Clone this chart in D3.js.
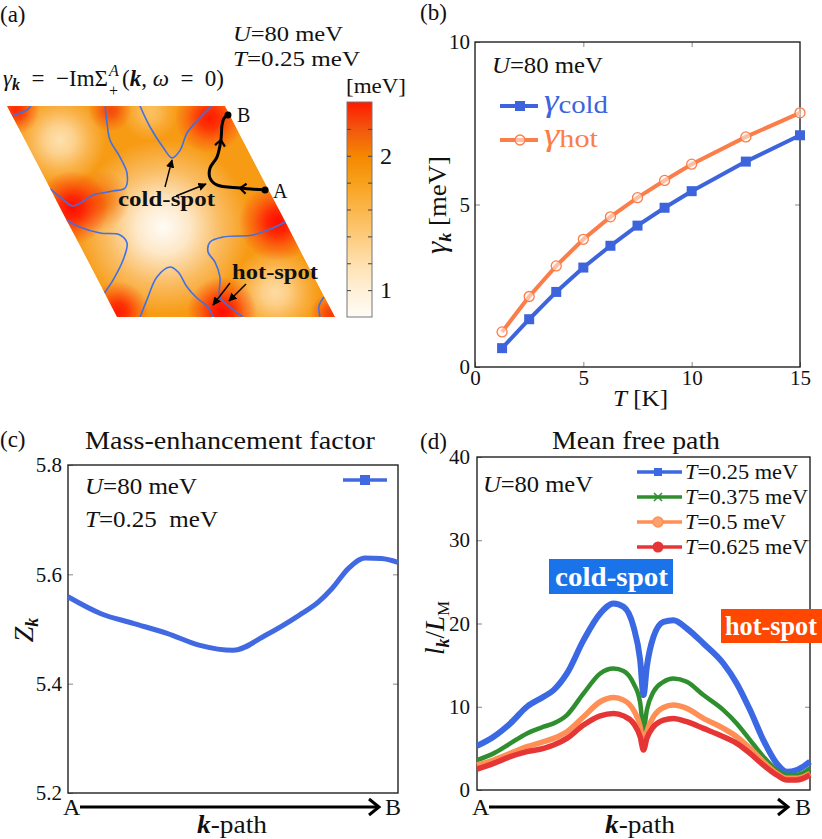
<!DOCTYPE html>
<html>
<head>
<meta charset="utf-8">
<script src="https://cdn.jsdelivr.net/npm/d3@7"></script>
<style>
  body { margin: 0; background: #fff; }
  text { font-family: "Liberation Serif", "DejaVu Serif", serif; fill: #111; }
</style>
</head>
<body>
<svg id="fig" width="822" height="839"></svg>
<script>
// ---------- data ----------
// (a) map: lattice coords (u along top edge, v downwards), value in meV
var spotU   = [0.426, 0.162, 0.785, 0.64, 0.20, 0.054, 0.966, 0.494, 0.902, 0.03, 0.463, 0.017, 0.99];
var spotV   = [0.573, 0.161, 0.882, 0.03, 0.445, 0.483, 0.55, 0.976, 0.057, 0.02, 0.019, 0.976, 0.99];
var spotVal = [0.8, 1.2, 1.25, 1.5, 2.1, 2.45, 2.45, 2.45, 2.4, 2.35, 2.25, 2.4, 2.3];
var spotW   = [0.40, 0.21, 0.20, 0.13, 0.14, 0.17, 0.18, 0.16, 0.16, 0.11, 0.10, 0.14, 0.10];
var baseGamma = 1.85;

var fermiU = [
  [0.0, 0.043, 0.082, 0.110],
  [0.450, 0.418, 0.391, 0.396, 0.390, 0.345, 0.283, 0.182, 0.064, 0.026, 0.0],
  [0.0, 0.045, 0.123, 0.210, 0.223, 0.164, 0.070, 0.0],
  [0.610, 0.606, 0.617, 0.633, 0.689, 0.761, 0.836, 0.940],
  [0.106, 0.178, 0.279, 0.363, 0.388, 0.393, 0.412, 0.441, 0.440],
  [1.0, 0.928, 0.820, 0.678, 0.606, 0.573, 0.581, 0.568, 0.520, 0.542, 0.578],
  [0.997, 0.953, 0.931]
];
var fermiV = [
  [0.047, 0.033, 0.019, 0.0],
  [0.0, 0.081, 0.161, 0.242, 0.318, 0.389, 0.403, 0.422, 0.474, 0.431, 0.393],
  [0.540, 0.573, 0.602, 0.611, 0.649, 0.730, 0.825, 0.886],
  [0.0, 0.0995, 0.194, 0.246, 0.209, 0.128, 0.071, 0.0],
  [1.0, 0.919, 0.810, 0.763, 0.787, 0.858, 0.910, 0.953, 1.0],
  [0.550, 0.578, 0.611, 0.621, 0.645, 0.692, 0.739, 0.810, 0.905, 0.953, 1.0],
  [0.905, 0.948, 1.0]
];
var kPathU = [0.983, 0.873, 0.774, 0.759, 0.783, 0.841, 0.900, 0.941, 0.967, 0.992];
var kPathV = [0.398, 0.389, 0.374, 0.341, 0.294, 0.242, 0.161, 0.090, 0.057, 0.043];

var cbTicks = [1.0, 1.2, 1.4, 1.6, 1.8, 2.0, 2.2];
var cbLabels = [1, 2];

// (b) damping vs temperature
var tempsK     = [1.25, 2.5, 3.75, 5, 6.25, 7.5, 8.75, 10, 12.5, 15];
var gammaCold  = [0.58, 1.47, 2.31, 3.06, 3.73, 4.35, 4.90, 5.41, 6.32, 7.13];
var gammaHot   = [1.08, 2.17, 3.11, 3.93, 4.62, 5.21, 5.74, 6.24, 7.08, 7.82];

// (c) mass enhancement along k-path
var zPathT  = [0, 0.1, 0.2, 0.3, 0.4, 0.5, 0.6, 0.7, 0.76, 0.8, 0.85, 0.9, 0.95, 1.0];
var zValues = [5.559, 5.528, 5.510, 5.492, 5.470, 5.461, 5.489, 5.525, 5.550, 5.574, 5.611, 5.630, 5.629, 5.622];

// (d) mean free path along k-path
var mfpPathT = [0, 0.05, 0.10, 0.15, 0.20, 0.23, 0.27, 0.32, 0.37, 0.41, 0.44, 0.47, 0.49, 0.50,
                0.51, 0.53, 0.56, 0.59, 0.63, 0.68, 0.74, 0.78, 0.82, 0.86, 0.90, 0.93, 0.96, 1.0];
var mfp025  = [5.3, 6.4, 8.0, 10.0, 11.2, 12.0, 14.0, 18.0, 21.2, 22.4, 22.0, 19.6, 15.6, 11.4,
               14.8, 18.4, 20.2, 20.4, 19.4, 17.6, 15.2, 12.8, 9.6, 6.0, 3.2, 2.2, 2.4, 3.4];
var mfp0375 = [3.6, 4.4, 5.6, 6.8, 7.6, 8.0, 9.0, 11.6, 14.0, 14.6, 14.3, 12.8, 10.5, 7.2,
               9.6, 11.8, 13.0, 13.4, 13.0, 11.4, 9.6, 8.0, 6.0, 4.0, 2.4, 1.8, 1.8, 2.6];
var mfp05   = [3.0, 3.6, 4.4, 5.2, 5.8, 6.2, 7.0, 8.8, 10.6, 11.1, 10.8, 9.6, 7.6, 5.2,
               7.0, 8.8, 9.9, 10.2, 9.8, 8.6, 7.4, 6.4, 5.0, 3.4, 2.0, 1.4, 1.4, 2.0];
var mfp0625 = [2.5, 3.2, 4.0, 4.6, 5.0, 5.4, 6.2, 7.8, 8.9, 9.2, 8.9, 8.0, 6.4, 4.8,
               6.2, 7.6, 8.4, 8.6, 8.2, 7.4, 6.4, 5.6, 4.4, 3.0, 1.8, 1.2, 1.2, 1.8];
var mfpTemps = ["0.25", "0.375", "0.5", "0.625"];

// ---------- helpers ----------
var svg = d3.select("#fig");
var defs = svg.append("defs");
var SERIF = '"Liberation Serif", "DejaVu Serif", serif';

function styleAxis(ax, size) {
  ax.select(".domain").remove();
  ax.attr("font-family", SERIF).attr("font-size", size || 19);
  ax.selectAll(".tick line").attr("stroke", "#888").attr("stroke-width", 1);
  ax.selectAll(".tick text").attr("fill", "#222");
}

function frame(g, x, y) {
  g.append("rect")
    .attr("x", x.range()[0]).attr("y", y.range()[1])
    .attr("width", x.range()[1] - x.range()[0])
    .attr("height", y.range()[0] - y.range()[1])
    .attr("fill", "none").attr("stroke", "#222").attr("stroke-width", 1.4);
}

// stretch a text horizontally to the width seen in the figure
function fit(t, len) {
  return t.attr("textLength", len).attr("lengthAdjust", "spacingAndGlyphs");
}

// label with an italic leading symbol, e.g. "U" + "=80 meV"
function varText(g, x, y, size, sym, rest, len) {
  var t = g.append("text").attr("x", x).attr("y", y).attr("font-size", size).style("white-space", "pre");
  t.append("tspan").attr("font-style", "italic").text(sym);
  t.append("tspan").text(rest);
  if (len) fit(t, len);
  return t;
}

function pathArrow(g, x0, x1, yy) {
  g.append("line").attr("x1", x0).attr("x2", x1 - 2).attr("y1", yy).attr("y2", yy)
    .attr("stroke", "#000").attr("stroke-width", 3);
  g.append("path").attr("d", "M" + (x1 - 10) + "," + (yy - 8) + "L" + x1 + "," + yy + "L" + (x1 - 10) + "," + (yy + 8))
    .attr("fill", "none").attr("stroke", "#000").attr("stroke-width", 3);
}

function kPathLabel(g, x, yy) {
  var t = fit(g.append("text").attr("x", x).attr("y", yy).attr("font-size", 26), 70);
  t.append("tspan").attr("font-weight", "bold").attr("font-style", "italic").text("k");
  t.append("tspan").text("-path");
}

// ---------- panel (a) ----------
var colorMap = d3.scaleLinear()
  .domain([0.8, 1.0, 1.2, 1.4, 1.6, 1.8, 2.0, 2.2, 2.4])
  .range(["#fffcf6", "#fff0d8", "#fee0ae", "#fdcb7c", "#fbb64a", "#f8a11c", "#f58700", "#f2560f", "#ff1a00"]);

var uScale = d3.scaleLinear().domain([0, 1]).range([0, 218]);
var vScale = d3.scaleLinear().domain([0, 1]).range([106, 317]);
var shear  = d3.scaleLinear().domain([0, 1]).range([7, 117]);
function px(u, v) { return shear(v) + uScale(u); }

var ga = svg.append("g");
var corners = [[0, 0], [1, 0], [1, 1], [0, 1]];
var polyStr = corners.map(function(c) { return px(c[0], c[1]) + "," + vScale(c[1]); }).join(" ");
defs.append("clipPath").attr("id", "bzClip").append("polygon").attr("points", polyStr);

var mapG = ga.append("g").attr("clip-path", "url(#bzClip)");
mapG.append("polygon").attr("points", polyStr).attr("fill", colorMap(baseGamma));

spotU.forEach(function(u, i) {
  var gid = "spot" + i;
  var rg = defs.append("radialGradient").attr("id", gid);
  var c = colorMap(spotVal[i]);
  rg.append("stop").attr("offset", "0%").attr("stop-color", c).attr("stop-opacity", 1);
  rg.append("stop").attr("offset", "30%").attr("stop-color", c).attr("stop-opacity", 0.8);
  rg.append("stop").attr("offset", "65%").attr("stop-color", c).attr("stop-opacity", 0.35);
  rg.append("stop").attr("offset", "100%").attr("stop-color", c).attr("stop-opacity", 0);
  mapG.append("circle")
    .attr("cx", px(u, spotV[i])).attr("cy", vScale(spotV[i]))
    .attr("r", uScale(spotW[i]))
    .attr("fill", "url(#" + gid + ")");
});

var mapLine = d3.line()
  .x(function(d) { return px(d[0], d[1]); })
  .y(function(d) { return vScale(d[1]); })
  .curve(d3.curveCatmullRom);

fermiU.forEach(function(us, i) {
  var pts = us.map(function(u, j) { return [u, fermiV[i][j]]; });
  mapG.append("path").attr("d", mapLine(pts))
    .attr("fill", "none").attr("stroke", "#3f70e6").attr("stroke-width", 1.6);
});

// k-path A -> B
var kPts = kPathU.map(function(u, j) { return [u, kPathV[j]]; });
ga.append("path").attr("d", mapLine(kPts))
  .attr("fill", "none").attr("stroke", "#000").attr("stroke-width", 3);
[1, 6].forEach(function(j) {
  var p0 = kPts[j - 1], p1 = kPts[j + 1];
  var ang = Math.atan2(vScale(p1[1]) - vScale(p0[1]), px(p1[0], p1[1]) - px(p0[0], p0[1])) * 180 / Math.PI;
  ga.append("path").attr("d", "M-6,-5L0,0L-6,5")
    .attr("transform", "translate(" + px(kPts[j][0], kPts[j][1]) + "," + vScale(kPts[j][1]) + ") rotate(" + ang + ")")
    .attr("fill", "none").attr("stroke", "#000").attr("stroke-width", 2.2);
});
[0, kPts.length - 1].forEach(function(j) {
  ga.append("circle").attr("cx", px(kPts[j][0], kPts[j][1])).attr("cy", vScale(kPts[j][1]))
    .attr("r", 3.5).attr("fill", "#000");
});
ga.append("text").attr("x", 273).attr("y", 198).attr("font-size", 20).text("A");
ga.append("text").attr("x", 237).attr("y", 122).attr("font-size", 20).text("B");

// annotation arrows
defs.append("marker").attr("id", "tri").attr("viewBox", "0 0 10 10")
  .attr("refX", 9).attr("refY", 5).attr("markerWidth", 6).attr("markerHeight", 6)
  .attr("orient", "auto")
  .append("path").attr("d", "M0,0L10,5L0,10z").attr("fill", "#000");
[[165, 187, 172, 160], [176, 196, 206, 184], [230, 283, 213, 305], [246, 284, 229, 301]].forEach(function(a) {
  ga.append("line").attr("x1", a[0]).attr("y1", a[1]).attr("x2", a[2]).attr("y2", a[3])
    .attr("stroke", "#000").attr("stroke-width", 1.4).attr("marker-end", "url(#tri)");
});
fit(ga.append("text").attr("x", 118).attr("y", 206).attr("font-size", 21).attr("font-weight", "bold"), 97).text("cold-spot");
fit(ga.append("text").attr("x", 232).attr("y", 279).attr("font-size", 21).attr("font-weight", "bold"), 86).text("hot-spot");

ga.append("text").attr("x", 0).attr("y", 22).attr("font-size", 23).text("(a)");
varText(ga, 233, 41, 22, "U", "=80 meV", 110);
varText(ga, 233, 66, 22, "T", "=0.25 meV", 127);

// gamma_k = -Im Sigma^A_+(k, omega = 0), pieces placed by measured width
var f1 = ga.append("text").attr("x", 3).attr("y", 86).attr("font-size", 23).style("white-space", "pre");
f1.append("tspan").attr("font-style", "italic").text("γ");
f1.append("tspan").attr("font-style", "italic").attr("font-weight", "bold").attr("font-size", 16).attr("dy", 4).text("k");
f1.append("tspan").attr("dy", -4).text("  =  −ImΣ");
var xs = 3 + f1.node().getComputedTextLength() + 1;
ga.append("text").attr("x", xs).attr("y", 76).attr("font-size", 16).attr("font-style", "italic").text("A");
ga.append("text").attr("x", xs).attr("y", 96).attr("font-size", 16).text("+");
var f2 = ga.append("text").attr("x", xs + 13).attr("y", 86).attr("font-size", 23).style("white-space", "pre");
f2.append("tspan").text("(");
f2.append("tspan").attr("font-style", "italic").attr("font-weight", "bold").text("k");
f2.append("tspan").text(", ");
f2.append("tspan").attr("font-style", "italic").text("ω");
f2.append("tspan").text("  =  0)");

// colorbar
var cbY = d3.scaleLinear().domain([0.8, 2.4]).range([317, 102]);
var lg = defs.append("linearGradient").attr("id", "cbGrad")
  .attr("x1", 0).attr("y1", 1).attr("x2", 0).attr("y2", 0);
colorMap.domain().forEach(function(v) {
  lg.append("stop").attr("offset", (v - 0.8) / 1.6).attr("stop-color", colorMap(v));
});
ga.append("rect").attr("x", 347).attr("y", cbY(2.4)).attr("width", 25).attr("height", cbY(0.8) - cbY(2.4))
  .attr("fill", "url(#cbGrad)").attr("stroke", "#777").attr("stroke-width", 1);
var cbR = ga.append("g").attr("transform", "translate(372,0)")
  .call(d3.axisRight(cbY).tickValues(cbTicks).tickSizeInner(-4).tickSizeOuter(0).tickPadding(8)
    .tickFormat(function(d) { return cbLabels.indexOf(d) >= 0 ? d3.format("d")(d) : ""; }));
styleAxis(cbR, 24);
cbR.selectAll(".tick line").attr("stroke", "#444");
var cbL = ga.append("g").attr("transform", "translate(347,0)")
  .call(d3.axisLeft(cbY).tickValues(cbTicks).tickSizeInner(-4).tickSizeOuter(0).tickFormat(""));
styleAxis(cbL);
cbL.selectAll(".tick line").attr("stroke", "#444");
fit(ga.append("text").attr("x", 346).attr("y", 93).attr("font-size", 22), 60).text("[meV]");

// ---------- panel (b) ----------
var gb = svg.append("g");
var xB = d3.scaleLinear().domain([0, 15]).range([475, 800]);
var yB = d3.scaleLinear().domain([0, 10]).range([367, 42]);
var axB1 = gb.append("g").attr("transform", "translate(0,367)")
  .call(d3.axisBottom(xB).tickValues([0, 5, 10, 15]).tickSizeInner(-5).tickSizeOuter(0).tickPadding(3));
styleAxis(axB1, 21);
var axB2 = gb.append("g").attr("transform", "translate(475,0)")
  .call(d3.axisLeft(yB).tickValues([0, 5, 10]).tickSizeInner(-5).tickSizeOuter(0).tickPadding(5));
styleAxis(axB2, 21);
styleAxis(gb.append("g").attr("transform", "translate(0,42)")
  .call(d3.axisTop(xB).tickValues([5, 10]).tickSizeInner(-5).tickSizeOuter(0).tickFormat("")));
styleAxis(gb.append("g").attr("transform", "translate(800,0)")
  .call(d3.axisRight(yB).tickValues([5]).tickSizeInner(-5).tickSizeOuter(0).tickFormat("")));
frame(gb, xB, yB);

var lineB = d3.line().x(function(d) { return xB(d[0]); }).y(function(d) { return yB(d[1]); });
var coldPts = tempsK.map(function(t, i) { return [t, gammaCold[i]]; });
var hotPts = tempsK.map(function(t, i) { return [t, gammaHot[i]]; });
var blueB = "#3d64dc", orangeB = "#fb7d4a";
gb.append("path").attr("d", lineB(hotPts)).attr("fill", "none").attr("stroke", orangeB).attr("stroke-width", 4);
gb.append("path").attr("d", lineB(coldPts)).attr("fill", "none").attr("stroke", blueB).attr("stroke-width", 4);
gb.selectAll(".hotm").data(hotPts).enter().append("circle")
  .attr("cx", function(d) { return xB(d[0]); }).attr("cy", function(d) { return yB(d[1]); })
  .attr("r", 5).attr("fill", "#fff4ee").attr("fill-opacity", 0.55).attr("stroke", orangeB).attr("stroke-width", 1.3);
gb.selectAll(".coldm").data(coldPts).enter().append("rect")
  .attr("x", function(d) { return xB(d[0]) - 5; }).attr("y", function(d) { return yB(d[1]) - 5; })
  .attr("width", 10).attr("height", 10).attr("fill", blueB);

gb.append("text").attr("x", 420).attr("y", 20).attr("font-size", 23).text("(b)");
varText(gb, 492, 73, 23, "U", "=80 meV", 111);

// legend (b)
gb.append("line").attr("x1", 500).attr("x2", 538).attr("y1", 106).attr("y2", 106).attr("stroke", blueB).attr("stroke-width", 4);
gb.append("rect").attr("x", 515).attr("y", 101).attr("width", 10).attr("height", 10).attr("fill", blueB);
gb.append("line").attr("x1", 500).attr("x2", 538).attr("y1", 140).attr("y2", 140).attr("stroke", orangeB).attr("stroke-width", 4);
gb.append("circle").attr("cx", 520).attr("cy", 140).attr("r", 5).attr("fill", "#fff4ee").attr("fill-opacity", 0.55).attr("stroke", orangeB).attr("stroke-width", 1.3);
var lc = fit(gb.append("text").attr("x", 544).attr("y", 111), 64);
lc.append("tspan").attr("font-size", 32).attr("font-style", "italic").style("fill", blueB).text("γ");
lc.append("tspan").attr("font-size", 25).attr("dy", 2).style("fill", blueB).text("cold");
var lh = fit(gb.append("text").attr("x", 544).attr("y", 145), 54);
lh.append("tspan").attr("font-size", 32).attr("font-style", "italic").style("fill", orangeB).text("γ");
lh.append("tspan").attr("font-size", 25).attr("dy", 2).style("fill", orangeB).text("hot");

var ylb = gb.append("text").attr("transform", "translate(446,205) rotate(-90)").attr("text-anchor", "middle")
  .attr("font-size", 25);
fit(ylb, 98);
ylb.append("tspan").attr("font-style", "italic").attr("font-size", 29).text("γ");
ylb.append("tspan").attr("font-style", "italic").attr("font-weight", "bold").attr("font-size", 17).attr("dy", 5).text("k");
ylb.append("tspan").attr("dy", -5).text(" [meV]");
varText(gb, 613, 406, 24, "T", " [K]", 55);

// ---------- panel (c) ----------
var gc = svg.append("g");
var xC = d3.scaleLinear().domain([0, 1]).range([68, 398]);
var yC = d3.scaleLinear().domain([5.2, 5.8]).range([793, 465]);
var axC = gc.append("g").attr("transform", "translate(68,0)")
  .call(d3.axisLeft(yC).tickValues([5.2, 5.4, 5.6, 5.8]).tickSizeInner(-5).tickSizeOuter(0).tickPadding(6).tickFormat(d3.format(".1f")));
styleAxis(axC, 21);
styleAxis(gc.append("g").attr("transform", "translate(398,0)")
  .call(d3.axisRight(yC).tickValues([5.4, 5.6]).tickSizeInner(-5).tickSizeOuter(0).tickFormat("")));
frame(gc, xC, yC);
var zPts = zPathT.map(function(t, i) { return [t, zValues[i]]; });
gc.append("path")
  .attr("d", d3.line().x(function(d) { return xC(d[0]); }).y(function(d) { return yC(d[1]); }).curve(d3.curveMonotoneX)(zPts))
  .attr("fill", "none").attr("stroke", "#4169e1").attr("stroke-width", 5);
gc.append("line").attr("x1", 343).attr("x2", 387).attr("y1", 480).attr("y2", 480).attr("stroke", "#4169e1").attr("stroke-width", 3.5);
gc.append("rect").attr("x", 360).attr("y", 475).attr("width", 10).attr("height", 10).attr("fill", "#4169e1");

gc.append("text").attr("x", 0).attr("y", 447).attr("font-size", 23).text("(c)");
fit(gc.append("text").attr("x", 85).attr("y", 449).attr("font-size", 25), 290).text("Mass-enhancement factor");
varText(gc, 85, 494, 23, "U", "=80 meV", 112);
varText(gc, 85, 527, 23, "T", "=0.25  meV", 133);
var ylc = gc.append("text").attr("transform", "translate(33,630) rotate(-90)").attr("text-anchor", "middle").attr("font-size", 28);
ylc.append("tspan").attr("font-style", "italic").text("Z");
ylc.append("tspan").attr("font-style", "italic").attr("font-weight", "bold").attr("font-size", 18).attr("dy", 5).text("k");
gc.append("text").attr("x", 63).attr("y", 815).attr("font-size", 24).text("A");
gc.append("text").attr("x", 385).attr("y", 815).attr("font-size", 24).text("B");
pathArrow(gc, 80, 379, 807);
kPathLabel(gc, 197, 833);

// ---------- panel (d) ----------
var gd = svg.append("g");
var xD = d3.scaleLinear().domain([0, 1]).range([477, 810]);
var yD = d3.scaleLinear().domain([0, 40]).range([790, 457]);
var axD = gd.append("g").attr("transform", "translate(477,0)")
  .call(d3.axisLeft(yD).tickValues([0, 10, 20, 30, 40]).tickSizeInner(-5).tickSizeOuter(0).tickPadding(7));
styleAxis(axD, 21);
styleAxis(gd.append("g").attr("transform", "translate(810,0)")
  .call(d3.axisRight(yD).tickValues([10, 20, 30]).tickSizeInner(-5).tickSizeOuter(0).tickFormat("")));
frame(gd, xD, yD);

var mfpSeries = [mfp025, mfp0375, mfp05, mfp0625];
var mfpColors = ["#3b68e3", "#2f8f2f", "#ff8f55", "#e63535"];
var mfpWidths = [6, 4.5, 5.5, 5.5];
var lineD = d3.line().x(function(d) { return xD(d[0]); }).y(function(d) { return yD(d[1]); }).curve(d3.curveMonotoneX);
mfpSeries.forEach(function(s, k) {
  var pts = mfpPathT.map(function(t, i) { return [t, s[i]]; });
  gd.append("path").attr("d", lineD(pts)).attr("fill", "none")
    .attr("stroke", mfpColors[k]).attr("stroke-width", mfpWidths[k]).attr("stroke-linejoin", "round");
});

gd.append("text").attr("x", 420).attr("y", 449).attr("font-size", 23).text("(d)");
fit(gd.append("text").attr("x", 552).attr("y", 449).attr("font-size", 25), 168).text("Mean free path");
varText(gd, 483, 492, 23, "U", "=80 meV", 110);

// legend (d)
var legLens = [113, 123, 101, 123];
mfpTemps.forEach(function(lbl, k) {
  var yy = 472 + 25 * k, c = mfpColors[k];
  gd.append("line").attr("x1", 637).attr("x2", 682).attr("y1", yy).attr("y2", yy).attr("stroke", c).attr("stroke-width", 3.5);
  if (k === 0) gd.append("rect").attr("x", 654).attr("y", yy - 4).attr("width", 8).attr("height", 8).attr("fill", c);
  if (k === 1) gd.append("path").attr("d", "M" + (658 - 4) + "," + (yy - 4) + "l8,8m0,-8l-8,8").attr("stroke", c).attr("stroke-width", 1.5);
  if (k === 2) gd.append("circle").attr("cx", 658).attr("cy", yy).attr("r", 5).attr("fill", "#ffa070").attr("stroke", c).attr("stroke-width", 1.5);
  if (k === 3) gd.append("circle").attr("cx", 658).attr("cy", yy).attr("r", 5.5).attr("fill", c);
  varText(gd, 685, yy + 7, 22, "T", "=" + lbl + " meV", legLens[k]);
});

gd.append("rect").attr("x", 549).attr("y", 559).attr("width", 124).attr("height", 35).attr("fill", "#1a73e8");
fit(gd.append("text").attr("x", 555).attr("y", 586).attr("font-size", 28).attr("font-weight", "bold"), 113)
  .style("fill", "#fff").text("cold-spot");
gd.append("rect").attr("x", 721).attr("y", 609).attr("width", 101).attr("height", 34).attr("fill", "#ff4700");
fit(gd.append("text").attr("x", 725).attr("y", 635).attr("font-size", 28).attr("font-weight", "bold"), 92)
  .style("fill", "#fff").text("hot-spot");

var yld = gd.append("text").attr("transform", "translate(444,628) rotate(-90)").attr("text-anchor", "middle")
  .attr("font-size", 27);
yld.append("tspan").attr("font-style", "italic").text("l");
yld.append("tspan").attr("font-style", "italic").attr("font-weight", "bold").attr("font-size", 18).attr("dy", 5).text("k");
yld.append("tspan").attr("dy", -5).text("/");
yld.append("tspan").attr("font-style", "italic").text("L");
yld.append("tspan").attr("font-size", 17).attr("dy", 5).text("M");
gd.append("text").attr("x", 472).attr("y", 815).attr("font-size", 24).text("A");
gd.append("text").attr("x", 795).attr("y", 815).attr("font-size", 24).text("B");
pathArrow(gd, 489, 788, 807);
kPathLabel(gd, 605, 833);
</script>
</body>
</html>
